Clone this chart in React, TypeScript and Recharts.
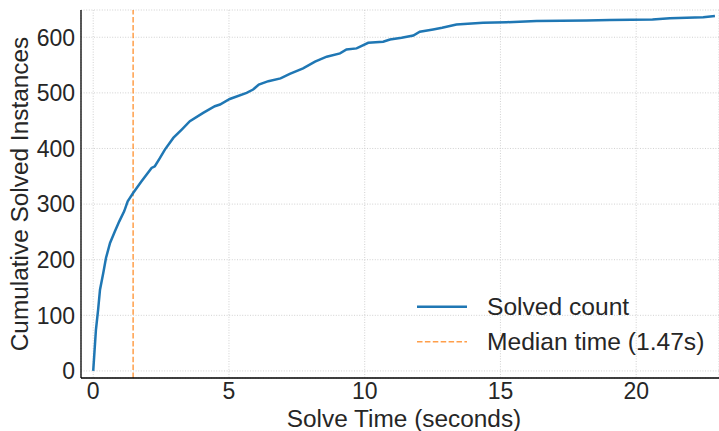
import React from "react";
import {
  LineChart,
  Line,
  XAxis,
  YAxis,
  CartesianGrid,
  ReferenceLine,
} from "recharts";

// solve time (s) and cumulative solved instances
const solveTimes = [
  0, 0.1, 0.18, 0.25, 0.37, 0.47, 0.62, 0.8, 0.96, 1.14, 1.27, 1.47, 1.78,
  2.15, 2.27, 2.46, 2.64, 2.95, 3.26, 3.56, 4.05, 4.48, 4.67, 5.03, 5.65, 5.89,
  6.1, 6.45, 6.9, 7.24, 7.73, 8.17, 8.6, 9.09, 9.33, 9.7, 10.13, 10.68, 10.93,
  11.36, 11.79, 12.03, 12.52, 12.85, 13.38, 14.36, 15.23, 16.33, 18.17, 19.03,
  20.6, 21.24, 22.47, 22.9,
];
const solvedCounts = [
  0, 74, 110, 146, 176, 203, 230, 251, 269, 287, 305, 320, 341, 365, 368, 383,
  398, 419, 434, 449, 464, 476, 479, 489, 500, 506, 515, 521, 526, 534, 544,
  556, 565, 571, 578, 580, 590, 592, 596, 599, 603, 610, 614, 617, 623, 626,
  627, 629, 630, 631, 632, 634, 636, 638,
];
const medianTime = 1.47;
const xTicks = [0, 5, 10, 15, 20];
const yTicks = [0, 100, 200, 300, 400, 500, 600];

const data = solveTimes.map((t, i) => ({ t, count: solvedCounts[i] }));

const FONT = "'Liberation Sans', Arial, sans-serif";
const TEXT = "#262626";
const BLUE = "#1f77b4";
const ORANGE = "#ff7f0e";
const TICK_SIZE = 23;

const XTick = (props: any) => (
  <text
    x={props.x}
    y={props.y + 17}
    textAnchor="middle"
    fill={TEXT}
    fontSize={TICK_SIZE}
    fontFamily={FONT}
  >
    {props.payload.value}
  </text>
);

const YTick = (props: any) => (
  <text
    x={props.x}
    y={props.y + 8.3}
    textAnchor="end"
    fill={TEXT}
    fontSize={TICK_SIZE}
    fontFamily={FONT}
  >
    {props.payload.value}
  </text>
);

export default function App() {
  return (
    <div
      style={{
        position: "absolute",
        left: 0,
        top: 0,
        width: 719,
        height: 431,
        background: "#fff",
        fontFamily: FONT,
      }}
    >
      <LineChart
        width={719}
        height={431}
        data={data}
        margin={{ top: 10, right: 0, bottom: 0, left: 0 }}
      >
        <CartesianGrid
          stroke="#cccccc"
          strokeDasharray="1 1.6"
          strokeWidth={0.9}
        />
        <XAxis
          dataKey="t"
          type="number"
          domain={[-0.45, 23.05]}
          ticks={xTicks}
          allowDataOverflow
          height={53}
          tickLine={false}
          tickSize={0}
          tickMargin={4}
          tick={<XTick />}
          axisLine={{ stroke: "#000", strokeWidth: 1.3 }}
          label={{
            content: () => (
              <text
                x={404}
                y={427}
                textAnchor="middle"
                fill={TEXT}
                fontSize={24.4}
                fontFamily={FONT}
              >
                Solve Time (seconds)
              </text>
            ),
          }}
        />
        <XAxis
          xAxisId="top"
          orientation="top"
          type="number"
          dataKey="t"
          domain={[-0.45, 23.05]}
          height={0}
          tick={false}
          tickLine={false}
          axisLine={{ stroke: "#000", strokeWidth: 1.3 }}
        />
        <YAxis
          type="number"
          domain={[-12.7, 649]}
          ticks={yTicks}
          allowDataOverflow
          width={81}
          tickLine={false}
          tickSize={0}
          tickMargin={6}
          tick={<YTick />}
          axisLine={{ stroke: "#000", strokeWidth: 1.3 }}
          label={{
            content: () => (
              <text
                x={28}
                y={194}
                transform="rotate(-90 28 194)"
                textAnchor="middle"
                fill={TEXT}
                fontSize={24.4}
                fontFamily={FONT}
              >
                Cumulative Solved Instances
              </text>
            ),
          }}
        />
        <ReferenceLine
          x={medianTime}
          stroke={ORANGE}
          strokeOpacity={0.75}
          strokeWidth={1.5}
          strokeDasharray="5.5 2.4"
        />
        <Line
          type="linear"
          dataKey="count"
          stroke={BLUE}
          strokeWidth={2.5}
          dot={false}
          activeDot={false}
          isAnimationActive={false}
        />
      </LineChart>

      {/* legend, lower right inside the plot */}
      <svg
        width={60}
        height={60}
        style={{ position: "absolute", left: 412, top: 295 }}
      >
        <line x1={5} x2={55} y1={11.7} y2={11.7} stroke={BLUE} strokeWidth={2.5} />
        <line
          x1={5}
          x2={55}
          y1={46.7}
          y2={46.7}
          stroke={ORANGE}
          strokeOpacity={0.75}
          strokeWidth={1.5}
          strokeDasharray="5.5 2.4"
        />
      </svg>
      <div
        style={{
          position: "absolute",
          left: 487,
          top: 295,
          fontSize: 24.6,
          lineHeight: "24px",
          color: TEXT,
          whiteSpace: "nowrap",
        }}
      >
        Solved count
      </div>
      <div
        style={{
          position: "absolute",
          left: 487,
          top: 330.3,
          fontSize: 24.6,
          lineHeight: "24px",
          color: TEXT,
          whiteSpace: "nowrap",
        }}
      >
        Median time (1.47s)
      </div>
    </div>
  );
}
